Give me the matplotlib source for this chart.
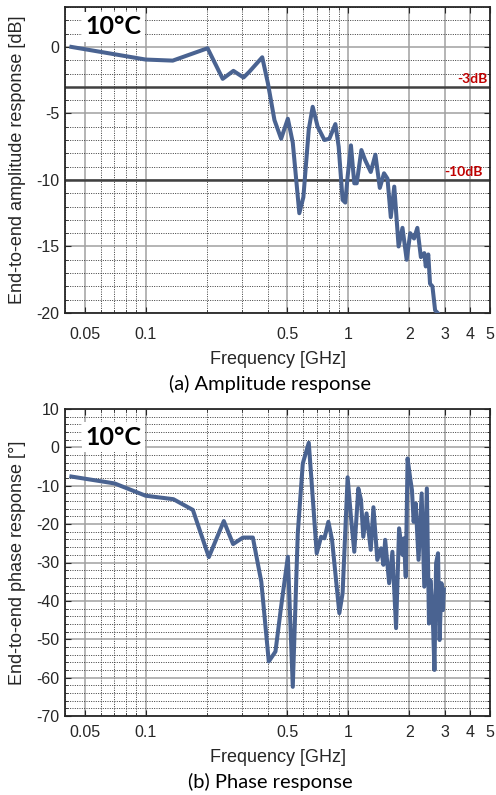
import matplotlib
matplotlib.use("Agg")
import matplotlib.pyplot as plt
from matplotlib.ticker import FixedLocator, FixedFormatter, MultipleLocator, NullFormatter

plt.rcParams['axes.unicode_minus'] = False
plt.rcParams['font.family'] = ['Liberation Sans', 'DejaVu Sans']

# ---------------- data ----------------
amp_freq = [0.043, 0.1, 0.136, 0.202, 0.24, 0.271, 0.304, 0.325, 0.376, 0.401, 0.432, 0.466,
            0.503, 0.532, 0.573, 0.60, 0.638, 0.667, 0.706, 0.762, 0.806, 0.863, 0.896, 0.937,
            0.966, 0.992, 1.03, 1.07, 1.10, 1.16, 1.21, 1.29, 1.36, 1.43, 1.50, 1.56, 1.62,
            1.685, 1.77, 1.85, 1.94, 2.02, 2.11, 2.19, 2.28, 2.37, 2.41, 2.48, 2.53, 2.60,
            2.68, 2.76]
amp_db = [0.0, -0.95, -1.03, -0.1, -2.4, -1.8, -2.3, -1.86, -0.78, -2.73, -5.5, -6.9,
          -5.4, -7.2, -12.5, -11.3, -6.2, -4.5, -6.0, -7.0, -6.9, -5.8, -7.5, -11.5,
          -11.7, -9.75, -7.4, -10.25, -10.25, -7.75, -8.5, -9.4, -8.1, -10.6, -9.5, -9.9, -12.8,
          -10.5, -15.0, -13.6, -16.0, -14.0, -14.4, -13.6, -15.8, -15.5, -16.5, -15.6, -17.8, -18.0,
          -19.8, -20.0]

ph_freq = [0.043, 0.0703, 0.1, 0.137, 0.171, 0.205, 0.243, 0.27, 0.302, 0.338, 0.372, 0.405,
           0.437, 0.466, 0.503, 0.532, 0.563, 0.596, 0.638, 0.667, 0.698, 0.734, 0.762, 0.797,
           0.831, 0.903, 0.937, 0.992, 1.03, 1.07, 1.12, 1.155, 1.185, 1.23, 1.29, 1.33, 1.39,
           1.45, 1.49, 1.52, 1.59, 1.65, 1.72, 1.78, 1.85, 1.88, 1.92, 1.96, 2.02, 2.06, 2.10,
           2.15, 2.22, 2.30, 2.37, 2.44, 2.50, 2.54, 2.60, 2.66, 2.71, 2.77, 2.82, 2.88, 2.93, 2.96]
ph_deg = [-7.6, -9.4, -12.6, -13.5, -16.3, -28.6, -19.2, -25.2, -23.5, -23.5, -35.0, -55.8,
          -53.2, -41.5, -28.5, -62.4, -22.4, -4.2, 1.2, -12.9, -27.6, -23.3, -23.7, -19.4,
          -24.1, -43.2, -38.0, -7.8, -18.1, -27.2, -10.7, -13.7, -23.3, -17.2, -26.7, -15.6, -29.3,
          -26.3, -30.6, -24.1, -35.4, -27.2, -47.1, -21.1, -28.0, -23.7, -33.7, -2.9, -8.1, -11.1, -19.4,
          -14.6, -29.3, -12.0, -36.3, -10.7, -45.9, -34.6, -41.5, -58.0, -30.2, -27.6, -50.2, -35.4, -42.4, -37.0]

xticks_major = [0.05, 0.1, 0.5, 1, 2, 3, 4, 5]
xtick_labels = ['0.05', '0.1', '0.5', '1', '2', '3', '4', '5']
xticks_minor = [0.04, 0.06, 0.07, 0.08, 0.09, 0.2, 0.3, 0.4, 0.6, 0.7, 0.8, 0.9]

LINE = '#4a6391'
TXT = '#262626'
W, H = 496, 795
fig = plt.figure(figsize=(W / 100, H / 100), dpi=100)


def px_axes(left, top, right, bottom):
    return fig.add_axes([left / W, (H - bottom) / H, (right - left) / W, (bottom - top) / H])


def style(ax, ylim, ymaj, ymin, ylabel, xpad, xlab_y):
    ax.set_xscale('log')
    ax.set_xlim(0.04, 5)
    ax.set_ylim(*ylim)
    ax.xaxis.set_major_locator(FixedLocator(xticks_major))
    ax.xaxis.set_major_formatter(FixedFormatter(xtick_labels))
    ax.xaxis.set_minor_locator(FixedLocator(xticks_minor))
    ax.xaxis.set_minor_formatter(NullFormatter())
    ax.yaxis.set_major_locator(MultipleLocator(ymaj))
    ax.yaxis.set_minor_locator(MultipleLocator(ymin))
    ax.grid(which='major', color='#a0a0a0', lw=1.1, ls='-')
    ax.grid(which='minor', color='#3a3a3a', lw=0.7, ls=(0, (1.0, 1.4)))
    ax.tick_params(which='both', direction='in', top=True, right=True, colors=TXT,
                   labelsize=11.5, labelcolor=TXT)
    ax.tick_params(which='major', length=4, width=0.8)
    ax.tick_params(which='minor', length=2, width=0.6)
    ax.tick_params(axis='x', pad=xpad)
    ax.tick_params(axis='y', pad=4)
    for s in ax.spines.values():
        s.set_color(TXT)
        s.set_linewidth(1.3)
    ax.set_axisbelow(True)
    ax.set_ylabel(ylabel, fontsize=13, color=TXT)
    ax.yaxis.set_label_coords(-0.092, 0.5)
    ax.set_xlabel('Frequency [GHz]', fontsize=13, color=TXT)
    ax.xaxis.set_label_coords(0.5, xlab_y)


# ---------- amplitude ----------
ax1 = px_axes(65, 7, 490, 313)
style(ax1, (-20, 3), 5, 1, 'End-to-end amplitude response [dB]', 10, -0.125)
ax1.axhline(-3, color='#404040', lw=1.8, zorder=2)
ax1.axhline(-10, color='#404040', lw=1.8, zorder=2)
ax1.plot(amp_freq, amp_db, color=LINE, lw=2.9, zorder=3)
ax1.text(4.85, -2.85, '-3dB', color='#c00000', fontsize=10, fontweight='bold',
         family=['Lato', 'DejaVu Sans'], ha='right', va='bottom', zorder=4)
ax1.text(4.6, -9.85, '-10dB', color='#c00000', fontsize=10, fontweight='bold',
         family=['Lato', 'DejaVu Sans'], ha='right', va='bottom', zorder=4)
ax1.text(0.0505, 1.5, '10°C', fontsize=18, fontweight='bold', family=['Lato', 'DejaVu Sans'],
         ha='left', va='center', zorder=5,
         bbox=dict(facecolor='white', edgecolor='none', boxstyle='square,pad=0.15'))

# ---------- phase ----------
ax2 = px_axes(65, 409, 490, 716)
style(ax2, (-70, 10), 10, 2, 'End-to-end phase response [°]', 6.5, -0.108)
ax2.plot(ph_freq, ph_deg, color=LINE, lw=2.9, zorder=3)
ax2.text(0.0505, 2.7, '10°C', fontsize=18, fontweight='bold', family=['Lato', 'DejaVu Sans'],
         ha='left', va='center', zorder=5,
         bbox=dict(facecolor='white', edgecolor='none', boxstyle='square,pad=0.15'))

fig.text(270 / W, 1 - 384 / H, '(a) Amplitude response', ha='center', va='center',
         fontsize=14.5, family=['Lato', 'DejaVu Sans'])
fig.text(270 / W, 1 - 782 / H, '(b) Phase response', ha='center', va='center',
         fontsize=14.5, family=['Lato', 'DejaVu Sans'])

fig.savefig('out.png', dpi=100)
